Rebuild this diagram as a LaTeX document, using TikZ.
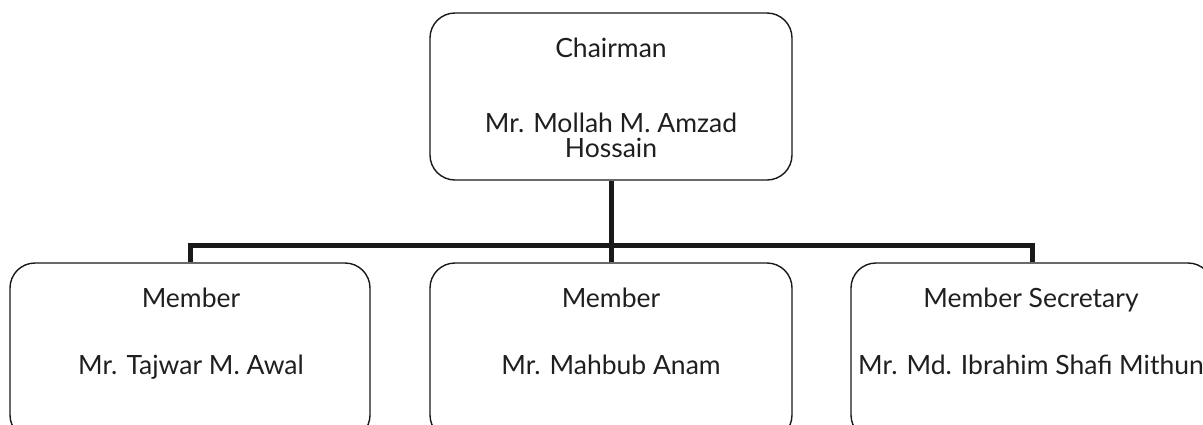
\documentclass[tikz,border=0pt]{standalone}
\usepackage{fontspec}
\setmainfont{Lato}
\begin{document}
\begin{tikzpicture}[x=1pt,y=-1pt,
  box/.style={draw=black!90, line width=1.4pt, rounded corners=25pt, inner sep=0pt},
  txt/.style={inner sep=0pt, anchor=base, text=black!88, font=\fontsize{26.5}{28}\selectfont},
  conn/.style={draw=black!90, line width=5pt, line join=miter}]
\useasboundingbox (0,0) rectangle (1203,424);
\clip (0,0) rectangle (1203,424);
\node[box, minimum width=362pt, minimum height=167pt] (top) at (611,96.5) {};
\node[box, minimum width=360pt, minimum height=177pt] (m1) at (190,351.5) {};
\node[box, minimum width=362pt, minimum height=177pt] (m2) at (611,351.5) {};
\node[box, minimum width=362pt, minimum height=177pt] (m3) at (1032,351.5) {};
\node[txt] (t1) at (611,57) {Chairman};
\node[txt] (t2) at (611,132) {Mr. Mollah M. Amzad};
\node[txt] (t3) at (611,157) {Hossain};
\node[txt] (a1) at (191,307) {Member};
\node[txt] (a2) at (191,374) {Mr. Tajwar M. Awal};
\node[txt] (b1) at (611,307) {Member};
\node[txt] (b2) at (611,374) {Mr. Mahbub Anam};
\node[txt] (c1) at (1031,307) {Member Secretary};
\node[txt] (c2) at (1031,374) {Mr. Md. Ibrahim Shafi Mithun};
\coordinate (j) at (611,245);
\draw[conn] (top.south) -- (m2.north);
\draw[conn] (m1.north) |- (j) -| (m3.north);
\end{tikzpicture}
\end{document}
